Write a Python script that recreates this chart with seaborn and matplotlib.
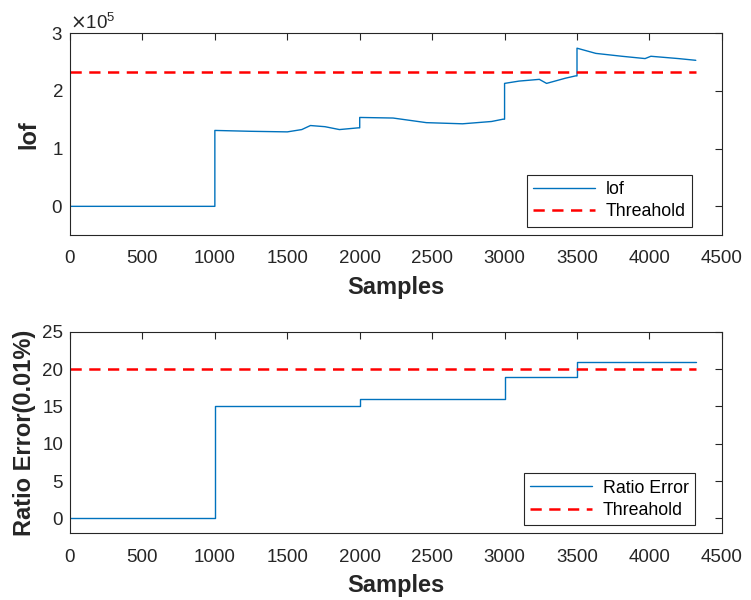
import matplotlib
import numpy as np
import pandas as pd

matplotlib.use("Agg")
import matplotlib.pyplot as plt
import seaborn as sns
from matplotlib.ticker import ScalarFormatter

# lof curve (values in units of 1e5)
LOF_X = [0, 1000, 1000, 1250, 1500, 1600, 1660, 1760, 1860, 1990, 2000, 2000,
         2230, 2460, 2710, 2910, 2990, 3000, 3000, 3100, 3240, 3290, 3420,
         3490, 3500, 3500, 3630, 3810, 3970, 4010, 4200, 4320]
LOF_Y = [0, 0, 1.315, 1.30, 1.29, 1.33, 1.40, 1.38, 1.33, 1.36, 1.36, 1.54,
         1.53, 1.45, 1.43, 1.47, 1.51, 1.51, 2.13, 2.17, 2.20, 2.13, 2.22,
         2.26, 2.26, 2.74, 2.65, 2.60, 2.56, 2.60, 2.56, 2.53]
LOF_THRESH = 2.32

RATIO_X = [0, 1000, 1000, 2000, 2000, 3000, 3000, 3500, 3500, 4320]
RATIO_Y = [0, 0, 15, 15, 16, 16, 19, 19, 21, 21]
RATIO_THRESH = 20

X_END = 4320

BLUE = "#0072BD"
RED = "#FF0000"
DARK = "#262626"

sns.set_style("white")
plt.rcParams["font.family"] = ["Liberation Sans", "DejaVu Sans"]
plt.rcParams["xtick.direction"] = "in"
plt.rcParams["ytick.direction"] = "in"
plt.rcParams["xtick.top"] = True
plt.rcParams["ytick.right"] = True

fig = plt.figure(figsize=(7.51, 6.0), dpi=100)
ax1 = fig.add_axes([0.0932, 0.608, 0.868, 0.3367])
ax2 = fig.add_axes([0.0932, 0.111, 0.868, 0.336])

lof = pd.DataFrame({"x": LOF_X, "y": np.array(LOF_Y) * 1e5})
ratio = pd.DataFrame({"x": RATIO_X, "y": RATIO_Y})


def style_axes(ax):
    for s in ax.spines.values():
        s.set_color(DARK)
        s.set_linewidth(0.8)
    ax.tick_params(axis="both", which="both", labelsize=13.5, length=5,
                   width=0.8, color=DARK, labelcolor=DARK,
                   top=True, right=True)
    ax.tick_params(axis="x", pad=11)
    ax.tick_params(axis="y", pad=5)
    ax.set_xlim(0, 4500)
    ax.set_xticks(np.arange(0, 4501, 500))
    ax.set_xlabel("Samples", fontsize=17, fontweight="bold", labelpad=6,
                  color=DARK)


def add_legend(ax, anchor):
    leg = ax.legend(loc="lower right", bbox_to_anchor=anchor,
                    borderaxespad=0, fontsize=12.8, fancybox=False,
                    edgecolor=DARK, framealpha=1, handlelength=3.5,
                    labelspacing=0.3, borderpad=0.35, handletextpad=0.6)
    leg.get_frame().set_linewidth(0.8)
    for t in leg.get_texts():
        t.set_color("black")


# top panel
sns.lineplot(data=lof, x="x", y="y", estimator=None, sort=False, ax=ax1,
             color=BLUE, linewidth=1.0, label="lof")
ax1.plot([0, X_END], [LOF_THRESH * 1e5] * 2, color=RED, linestyle="--",
         linewidth=1.8, dashes=(4.5, 3), label="Threahold")
ax1.set_ylim(-0.5e5, 3e5)
ax1.set_yticks([0, 1e5, 2e5, 3e5])
fmt = ScalarFormatter(useMathText=True)
fmt.set_powerlimits((0, 0))
ax1.yaxis.set_major_formatter(fmt)
ax1.yaxis.get_offset_text().set_fontsize(13.5)
ax1.yaxis.get_offset_text().set_color(DARK)
ax1.set_ylabel("lof", fontsize=17, fontweight="bold", color=DARK, labelpad=8)
style_axes(ax1)
add_legend(ax1, (0.954, 0.043))

# bottom panel
sns.lineplot(data=ratio, x="x", y="y", estimator=None, sort=False, ax=ax2,
             color=BLUE, linewidth=1.0, label="Ratio Error")
ax2.plot([0, X_END], [RATIO_THRESH] * 2, color=RED, linestyle="--",
         linewidth=1.8, dashes=(4.5, 3), label="Threahold")
ax2.set_ylim(-2, 25)
ax2.set_yticks(np.arange(0, 26, 5))
ax2.set_ylabel("Ratio Error(0.01%)", fontsize=17, fontweight="bold",
               color=DARK, labelpad=4)
style_axes(ax2)
add_legend(ax2, (0.9586, 0.041))

fig.savefig("out.png", dpi=100)
plt.close(fig)
